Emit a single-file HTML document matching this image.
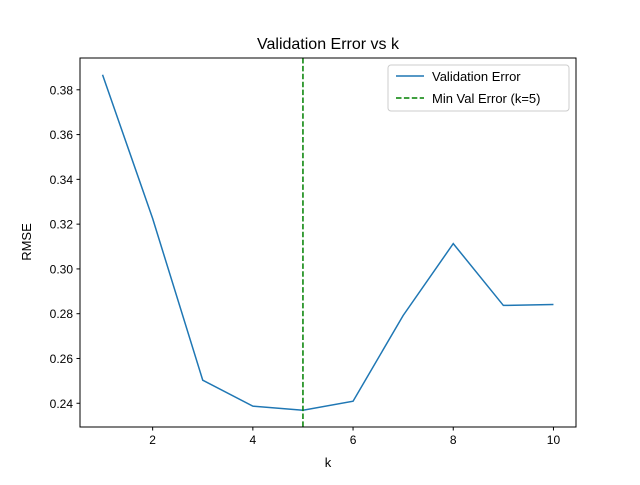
<!DOCTYPE html>
<html><head><meta charset="utf-8"><style>
body{margin:0;background:#fff}
svg{font-family:"Liberation Sans","DejaVu Sans",sans-serif}
</style></head><body>
<svg id="chart" width="640" height="480" viewBox="0 0 640 480">
<rect width="640" height="480" fill="#fff"/>
<text x="328" y="49" text-anchor="middle" font-size="16">Validation Error vs k</text>
<g id="plot"></g>
<rect x="80" y="58" width="496" height="369" fill="none" stroke="#000" stroke-width="1"/>
<text x="328" y="467" text-anchor="middle" font-size="13">k</text>
<text transform="translate(31,242) rotate(-90)" text-anchor="middle" font-size="13">RMSE</text>
<g>
<rect x="388" y="65" width="181" height="46" rx="3" fill="#fff" fill-opacity="0.8" stroke="#ccc"/>
<line x1="396" y1="76" x2="424" y2="76" stroke="#1f77b4" stroke-width="1.5"/>
<text x="432" y="81" font-size="13">Validation Error</text>
<line x1="396" y1="98" x2="424" y2="98" stroke="green" stroke-width="1.5" stroke-dasharray="5.5,2.4"/>
<text x="432" y="103" font-size="13">Min Val Error (k=5)</text>
</g>
</svg>
<script>
const ks=[1,2,3,4,5,6,7,8,9,10];
const rmse=[0.3867,0.3225,0.2503,0.2387,0.2369,0.2409,0.2792,0.3113,0.2837,0.2841];
const xTicks=[2,4,6,8,10];
const yTicks=[0.24,0.26,0.28,0.30,0.32,0.34,0.36,0.38];
const minK=5;
const NS="http://www.w3.org/2000/svg";
const x0=80,x1=576,y0=58,y1=427;
const xmin=0.55,xmax=10.45,ymin=0.2294,ymax=0.3942;
const sx=v=>x0+(v-xmin)/(xmax-xmin)*(x1-x0);
const sy=v=>y1-(v-ymin)/(ymax-ymin)*(y1-y0);
const g=document.getElementById('plot');
function mk(t,a){const e=document.createElementNS(NS,t);for(const k in a)e.setAttribute(k,a[k]);g.appendChild(e);return e;}
xTicks.forEach(t=>{
 const l=mk('line',{x1:sx(t),x2:sx(t),y1:y1,y2:y1+3.5,stroke:'#000'});
 
 
 const tx=mk('text',{x:sx(t),y:y1+17,'text-anchor':'middle','font-size':'12'});
 tx.textContent=t;
 
 
});
yTicks.forEach(t=>{
 const l=mk('line',{x1:x0-3.5,x2:x0,y1:sy(t),y2:sy(t),stroke:'#000'});
 
 
 const tx=mk('text',{x:x0-7,y:sy(t)+4.5,'text-anchor':'end','font-size':'12'});
 tx.textContent=t.toFixed(2);
 
 
});
const p=mk('polyline',{points:ks.map((k,i)=>sx(k)+','+sy(rmse[i])).join(' '),fill:'none',stroke:'#1f77b4','stroke-width':1.5});


const v=mk('line',{x1:sx(minK),x2:sx(minK),y1:y0,y2:y1,stroke:'green','stroke-width':1.5,'stroke-dasharray':'5.5,2.4'});


</script>
</body></html>
